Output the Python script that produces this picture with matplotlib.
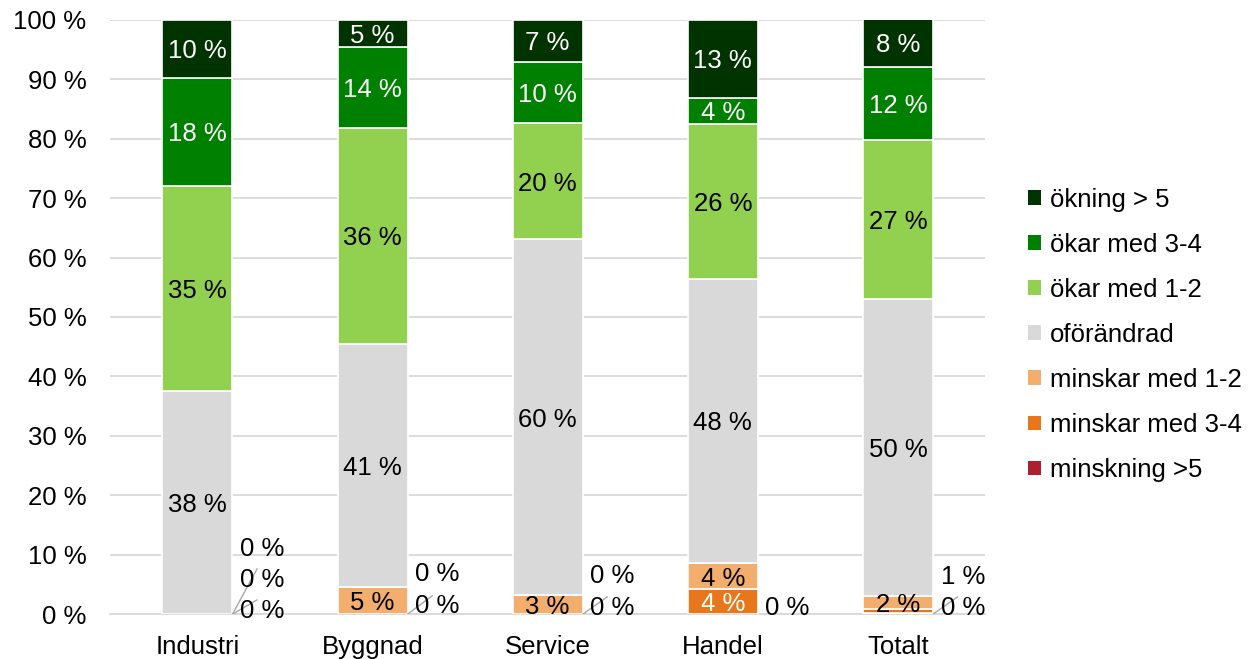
import matplotlib
matplotlib.use("Agg")
from matplotlib import pyplot as plt
from matplotlib.patches import Patch
import numpy as np

plt.rcParams['font.family'] = ['Liberation Sans', 'DejaVu Sans']

categories = ['Industri', 'Byggnad', 'Service', 'Handel', 'Totalt']
series_names = ['minskning >5', 'minskar med 3-4', 'minskar med 1-2', 'oförändrad',
                'ökar med 1-2', 'ökar med 3-4', 'ökning > 5']

minskning_5 = [0.0, 0.0, 0.0, 0.0, 0.2]
minskar_3_4 = [0.0, 0.0, 0.0, 4.2, 0.6]
minskar_1_2 = [0.0, 4.6, 3.2, 4.4, 2.2]
oforandrad = [37.5, 40.9, 59.9, 47.8, 50.1]
okar_1_2 = [34.6, 36.3, 19.5, 26.1, 26.6]
okar_3_4 = [18.1, 13.6, 10.3, 4.4, 12.3]
okning_5 = [9.8, 4.6, 7.1, 13.1, 8.2]

series = [minskning_5, minskar_3_4, minskar_1_2, oforandrad, okar_1_2, okar_3_4, okning_5]
colors = ['#B01F2E', '#E8761A', '#F3AD6D', '#D9D9D9', '#92D050', '#008000', '#003300']
text_colors = ['white', 'white', 'black', 'black', 'black', 'white', 'white']

# small segments get their label outside the bar: (category, series) -> (label y, leader line?)
outside = {
    (0, 0): (0.6, True), (0, 1): (5.8, True), (0, 2): (10.9, False),
    (1, 0): (1.3, True), (1, 1): (6.7, False),
    (2, 0): (1.1, True), (2, 1): (6.4, False),
    (3, 0): (1.1, False),
    (4, 0): (1.1, True), (4, 1): (6.2, False),
}

FS = 18.5

fig = plt.figure(figsize=(12.49, 6.59), dpi=100)
ax = fig.add_axes([0.088, 0.068, 0.701, 0.902])

x = np.arange(len(categories))
width = 0.4
bottom = np.zeros(len(categories))
for k, vals in enumerate(series):
    vals = np.array(vals)
    ax.bar(x, vals, width, bottom=bottom, color=colors[k], edgecolor='white',
           linewidth=1.2, zorder=3)
    for i, v in enumerate(vals):
        label = f'{v:.0f} %'
        if (i, k) in outside:
            ly, line = outside[(i, k)]
            lx = x[i] + 0.37
            ax.text(lx, ly, label, ha='center', va='center', fontsize=FS, zorder=5)
            if line:
                ax.plot([x[i] + width / 2, lx - 0.03], [0, ly + 1.8],
                        color='#A6A6A6', linewidth=1, zorder=4)
        else:
            ax.text(x[i], bottom[i] + v / 2 - 0.4, label, ha='center', va='center',
                    fontsize=FS, color=text_colors[k], zorder=5)
    bottom += vals

ax.set_xlim(-0.5, 4.5)
ax.set_ylim(0, 100)
ax.set_yticks(np.arange(0, 101, 10))
ax.set_yticklabels([f'{t} %' for t in range(0, 101, 10)], fontsize=FS)
ax.set_xticks(x)
ax.set_xticklabels(categories, fontsize=FS)
ax.tick_params(axis='y', length=0, pad=17)
ax.tick_params(axis='x', length=0, pad=15)
ax.grid(axis='y', color='#D9D9D9', linewidth=1.3, zorder=0)
for s in ['top', 'right', 'left']:
    ax.spines[s].set_visible(False)
ax.spines['bottom'].set_color('#D9D9D9')
ax.spines['bottom'].set_linewidth(1.3)

handles = [Patch(facecolor=colors[k], edgecolor='none') for k in range(len(series))][::-1]
ax.legend(handles, series_names[::-1], loc='center left', bbox_to_anchor=(1.037, 0.47),
          frameon=False, fontsize=FS, handlelength=0.5, handleheight=0.5,
          handletextpad=0.35, labelspacing=0.82, borderaxespad=0)

fig.savefig('out.png', dpi=100)
